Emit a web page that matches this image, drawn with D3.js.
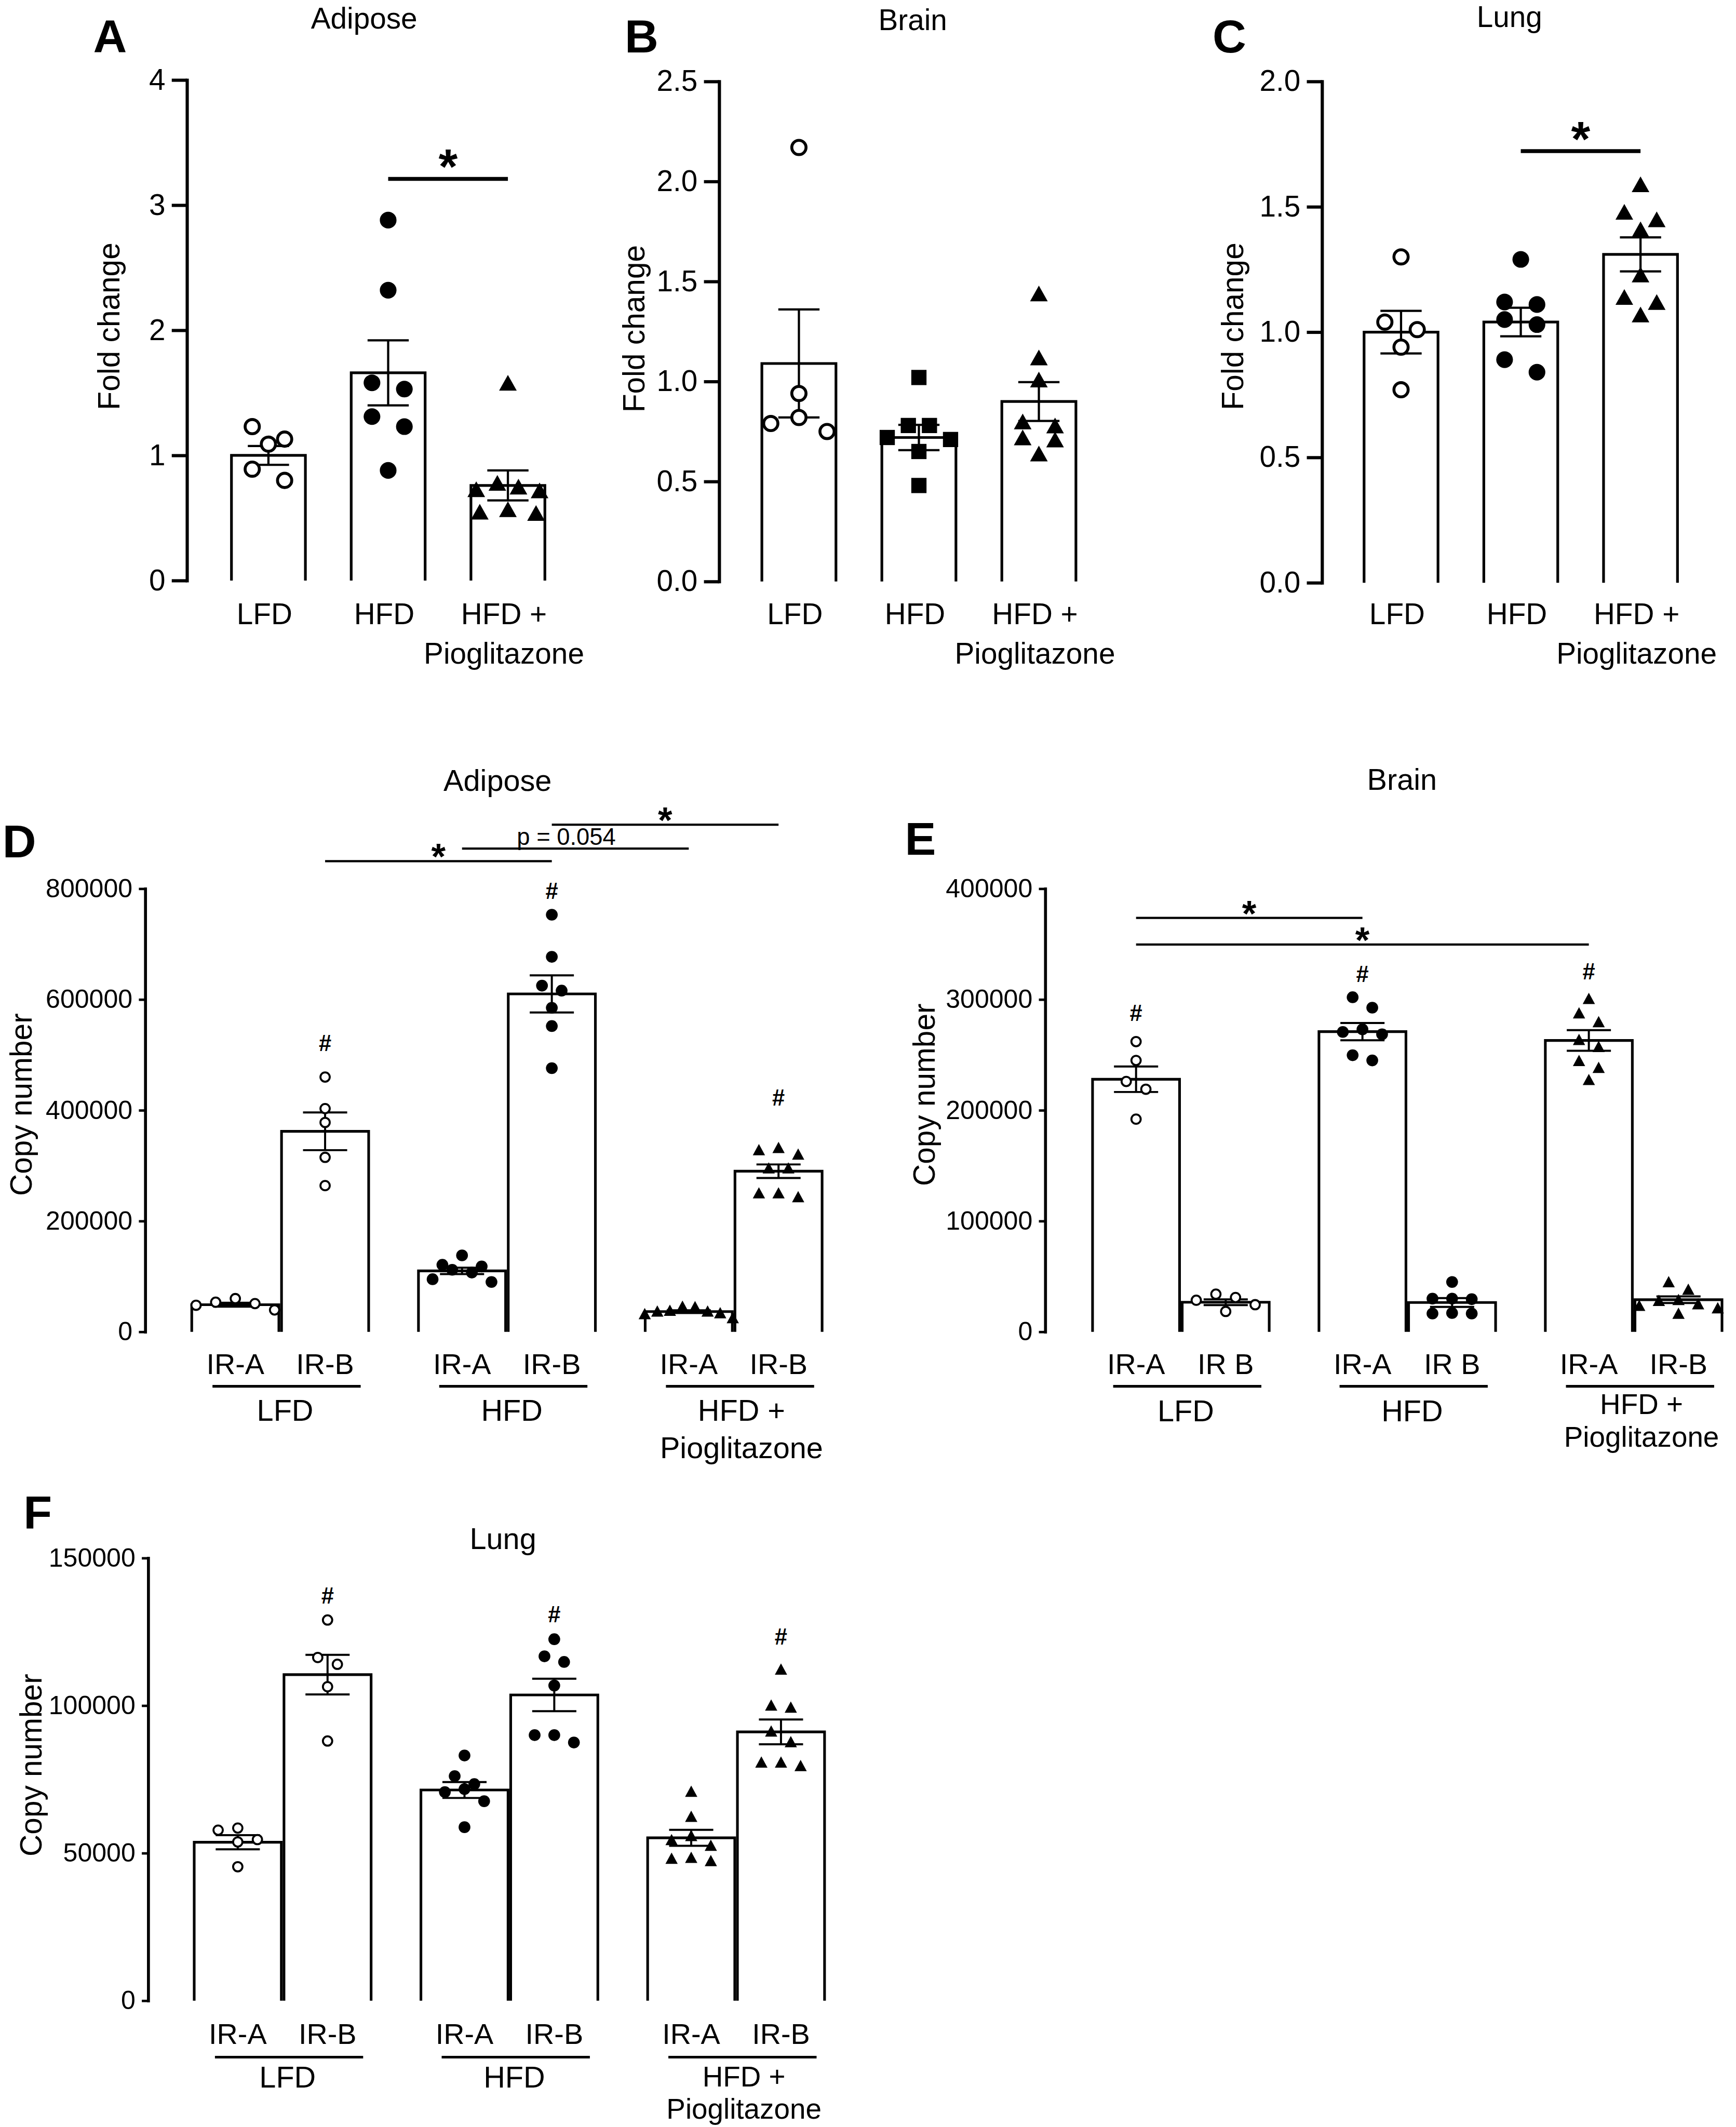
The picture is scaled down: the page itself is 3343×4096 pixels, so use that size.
<!DOCTYPE html>
<html><head><meta charset="utf-8">
<script src="https://cdn.jsdelivr.net/npm/d3@7"></script>
<style>
html,body{margin:0;padding:0;background:#fff;}
svg{display:block;}
</style></head><body>
<svg id="chart" width="3343" height="4096"></svg>
<script>
// ================= DATA =================
const foldGroups = ["LFD", "HFD", "HFD + Pioglitazone"];
const foldGroupLines = [["LFD"], ["HFD"], ["HFD +", "Pioglitazone"]];
const foldTicksAdipose = [0, 1, 2, 3, 4];
const foldTicksBrain = [0, 0.5, 1, 1.5, 2, 2.5];
const foldTicksLung = [0, 0.5, 1, 1.5, 2];

// Panel A - Adipose fold change
const adiposeFoldMean = [1.00, 1.66, 0.76];
const adiposeFoldSem = [0.075, 0.26, 0.12];
const adiposeFoldLFD = [1.23, 1.13, 1.09, 0.89, 0.80];
const adiposeFoldHFD = [2.88, 2.32, 1.58, 1.53, 1.31, 1.23, 0.88];
const adiposeFoldPio = [1.58, 0.78, 0.75, 0.73, 0.72, 0.57, 0.55, 0.54];
const adiposeFoldSig = [{ a: 1, b: 2, level: 3.21, label: "*" }];

// Panel B - Brain fold change
const brainFoldMean = [1.09, 0.72, 0.90];
const brainFoldSem = [0.27, 0.063, 0.097];
const brainFoldLFD = [2.17, 0.94, 0.82, 0.79, 0.75];
const brainFoldHFD = [1.02, 0.78, 0.78, 0.72, 0.71, 0.65, 0.48];
const brainFoldPio = [1.44, 1.12, 1.01, 0.80, 0.78, 0.72, 0.71, 0.64];
const brainFoldSig = [];

// Panel C - Lung fold change
const lungFoldMean = [1.00, 1.04, 1.31];
const lungFoldSem = [0.085, 0.057, 0.068];
const lungFoldLFD = [1.30, 1.04, 1.01, 0.94, 0.77];
const lungFoldHFD = [1.29, 1.12, 1.11, 1.05, 1.03, 0.89, 0.84];
const lungFoldPio = [1.59, 1.48, 1.45, 1.41, 1.23, 1.14, 1.12, 1.07];
const lungFoldSig = [{ a: 1, b: 2, level: 1.722, label: "*" }];

// Copy number panels: bar order = LFD IR-A, LFD IR-B, HFD IR-A, HFD IR-B, Pio IR-A, Pio IR-B
const copyGroups = ["LFD", "HFD", "HFD + Pioglitazone"];
const copyGroupLines = [["LFD"], ["HFD"], ["HFD +", "Pioglitazone"]];
const isoformLabelsAdipose = ["IR-A", "IR-B", "IR-A", "IR-B", "IR-A", "IR-B"];
const isoformLabelsBrain = ["IR-A", "IR B", "IR-A", "IR B", "IR-A", "IR-B"];
const isoformLabelsLung = ["IR-A", "IR-B", "IR-A", "IR-B", "IR-A", "IR-B"];
const copyTicksAdipose = [0, 200000, 400000, 600000, 800000];
const copyTicksBrain = [0, 100000, 200000, 300000, 400000];
const copyTicksLung = [0, 50000, 100000, 150000];

// Panel D - Adipose copy number
const adiposeCopyMean = [49000, 362000, 110000, 610000, 36500, 290000];
const adiposeCopySem = [3500, 34000, 5800, 33500, 2500, 12200];
const adiposeCopyPoints = [
  [60000, 53500, 51000, 48000, 39500],
  [460000, 403000, 378000, 315000, 264000],
  [138000, 121000, 118000, 112000, 107000, 95000, 90000],
  [753000, 677000, 625000, 616000, 585000, 552000, 476000],
  [46300, 45500, 39000, 37500, 37500, 34600, 33000, 25700],
  [333000, 329000, 321000, 296000, 296000, 251000, 251000, 244000]
];
const adiposeCopyHash = [null, 521000, null, 796000, null, 423000];
const adiposeCopySig = [
  { a: 1, b: 3, level: 849800, label: "*" },
  { a: 2, b: 4, level: 872400, label: "p = 0.054", small: true },
  { a: 3, b: 5, level: 915600, label: "*" }
];

// Panel E - Brain copy number
const brainCopyMean = [228000, 26700, 271000, 26500, 263000, 29000];
const brainCopySem = [11500, 2600, 7800, 4000, 9300, 3000];
const brainCopyPoints = [
  [262000, 245000, 226000, 219000, 192000],
  [34000, 31000, 28500, 24500, 18400],
  [302000, 292600, 273000, 270700, 268600, 249700, 245000],
  [45000, 30000, 30000, 29500, 17000, 16500, 16500],
  [301000, 288000, 280000, 264000, 257600, 245000, 238800, 227800],
  [45300, 38500, 29200, 28400, 25400, 23900, 21700, 16800]
];
const brainCopyHash = [288000, null, 323000, null, 325500, null];
const brainCopySig = [
  { a: 0, b: 2, level: 373700, label: "*" },
  { a: 0, b: 4, level: 349600, label: "*" }
];

// Panel F - Lung copy number
const lungCopyMean = [53700, 110500, 71400, 103600, 55200, 91100];
const lungCopySem = [2400, 6700, 2700, 5500, 2700, 4200];
const lungCopyPoints = [
  [58500, 57800, 54600, 53800, 45400],
  [129000, 116300, 114000, 106400, 88000],
  [83100, 76100, 73400, 71700, 70700, 67600, 58800],
  [122500, 116700, 114800, 106800, 90000, 90000, 87500],
  [71000, 62500, 56000, 54600, 52700, 48600, 48300, 47500],
  [112400, 100200, 99500, 91400, 87800, 80900, 80900, 79700]
];
const lungCopyHash = [null, 137200, null, 130900, null, 123300];
const lungCopySig = [];

// ================= DRAWING =================
const S = 0.945;
const FONT = '"Liberation Sans", Arial, Helvetica, sans-serif';
const svg = d3.select("#chart");
svg.append("rect").attr("width", 3343).attr("height", 4096).attr("fill", "#fff");
const root = svg.append("g").attr("transform", `scale(${S})`);

function txt(parent, x, y, s, size, opts = {}) {
  const t = parent.append("text").attr("x", x).attr("y", y)
    .attr("font-size", size).attr("font-family", FONT)
    .attr("text-anchor", opts.anchor || "middle")
    .attr("font-weight", opts.bold ? "bold" : "normal")
    .attr("fill", "#000").text(s);
  if (opts.dy) t.attr("dy", opts.dy);
  return t;
}

function marker(g, type, cx, cy, sz) {
  if (type === "open") {
    g.append("circle").attr("cx", cx).attr("cy", cy).attr("r", sz.ro)
      .attr("fill", "#fff").attr("stroke", "#000").attr("stroke-width", sz.sw);
  } else if (type === "dot") {
    g.append("circle").attr("cx", cx).attr("cy", cy).attr("r", sz.rf).attr("fill", "#000");
  } else if (type === "square") {
    g.append("rect").attr("x", cx - sz.sq / 2).attr("y", cy - sz.sq / 2)
      .attr("width", sz.sq).attr("height", sz.sq).attr("fill", "#000");
  } else {
    const w = sz.tw, h = sz.th;
    g.append("path").attr("d", `M${cx},${cy - h / 2}L${cx + w / 2},${cy + h / 2}L${cx - w / 2},${cy + h / 2}Z`)
      .attr("fill", "#000");
  }
}

function drawSwarm(g, vals, y, cx, type, sz, dm, spacing) {
  const pts = vals.map(v => ({ v, py: y(v) })).sort((a, b) => a.py - b.py);
  const rows = [];
  pts.forEach(p => {
    const r = rows[rows.length - 1];
    if (r && p.py - r[0].py < dm) r.push(p); else rows.push([p]);
  });
  rows.forEach(r => {
    const k = r.length, sp = spacing(k);
    const slots = d3.range(k).map(i => (i - (k - 1) / 2) * sp)
      .sort((a, b) => Math.abs(a) - Math.abs(b) || a - b);
    r.forEach((p, i) => marker(g, type, cx + slots[i], p.py, sz));
  });
}

function styleAxis(ag, domW, tickW, fontSize) {
  ag.attr("font-family", FONT);
  ag.select(".domain").attr("stroke", "#000").attr("stroke-width", domW).attr("stroke-linecap", "square");
  ag.selectAll(".tick line").attr("stroke", "#000").attr("stroke-width", tickW);
  ag.selectAll(".tick text").attr("font-size", fontSize).attr("font-family", FONT).attr("fill", "#000");
}

// ---------- Fold change panels (A-C) ----------
const foldPanels = [
  { letter: "A", letterX: 190, title: "Adipose", titleX: 742, titleY: 58, axisX: 381, y0: 1183, y1: 163,
    domain: [0, 4], ticks: foldTicksAdipose, fmt: d3.format("d"), xr: [425, 1157], ylabX: 222, ylabY: 665,
    mean: adiposeFoldMean, sem: adiposeFoldSem, pts: [adiposeFoldLFD, adiposeFoldHFD, adiposeFoldPio],
    markers: ["open", "dot", "tri"], sig: adiposeFoldSig },
  { letter: "B", letterX: 1273, title: "Brain", titleX: 1860, titleY: 61, axisX: 1465.5, y0: 1185, y1: 166,
    domain: [0, 2.5], ticks: foldTicksBrain, fmt: d3.format(".1f"), xr: [1505.75, 2239.25], ylabX: 1292, ylabY: 670,
    mean: brainFoldMean, sem: brainFoldSem, pts: [brainFoldLFD, brainFoldHFD, brainFoldPio],
    markers: ["open", "square", "tri"], sig: brainFoldSig },
  { letter: "C", letterX: 2471, title: "Lung", titleX: 3076, titleY: 55, axisX: 2694, y0: 1187.5, y1: 166,
    domain: [0, 2], ticks: foldTicksLung, fmt: d3.format(".1f"), xr: [2733, 3465], ylabX: 2512, ylabY: 665,
    mean: lungFoldMean, sem: lungFoldSem, pts: [lungFoldLFD, lungFoldHFD, lungFoldPio],
    markers: ["open", "dot", "tri"], sig: lungFoldSig }
];

const foldSize = { ro: 14.5, sw: 6, rf: 17, sq: 31, tw: 36, th: 32 };

foldPanels.forEach(c => {
  const g = root.append("g");
  const y = d3.scaleLinear().domain(c.domain).range([c.y0, c.y1]);
  const x = d3.scaleBand().domain(foldGroups).range(c.xr).paddingInner(0.36).paddingOuter(0.18);
  const ax = d3.axisLeft(y).tickValues(c.ticks).tickFormat(c.fmt).tickSize(31).tickSizeOuter(0).tickPadding(13);
  const ag = g.append("g").attr("transform", `translate(${c.axisX},0)`).call(ax);
  styleAxis(ag, 6.5, 6.5, 60);

  const sw = 5.5;
  foldGroups.forEach((grp, i) => {
    const bx = x(grp), bw = x.bandwidth(), cx = bx + bw / 2;
    g.append("path").attr("d", `M${bx + sw / 2},${y(0)}V${y(c.mean[i])}H${bx + bw - sw / 2}V${y(0)}`)
      .attr("fill", "#fff").attr("stroke", "#000").attr("stroke-width", sw).attr("stroke-linejoin", "miter");
    const lo = y(c.mean[i] - c.sem[i]), hi = y(c.mean[i] + c.sem[i]);
    g.append("path").attr("d", `M${cx},${lo}V${hi}M${cx - 42},${hi}H${cx + 42}M${cx - 42},${lo}H${cx + 42}`)
      .attr("fill", "none").attr("stroke", "#000").attr("stroke-width", 4.5);
  });
  foldGroups.forEach((grp, i) => {
    const cx = x(grp) + x.bandwidth() / 2;
    drawSwarm(g, c.pts[i], y, cx, c.markers[i], foldSize, 32, k => Math.min(66, 172 / k));
    foldGroupLines[i].forEach((line, j) => txt(g, cx - 8, 1272 + j * 80, line, 60));
  });
  c.sig.forEach(s => {
    const x1 = x(foldGroups[s.a]) + x.bandwidth() / 2, x2 = x(foldGroups[s.b]) + x.bandwidth() / 2;
    const ly = y(s.level);
    g.append("line").attr("x1", x1).attr("x2", x2).attr("y1", ly).attr("y2", ly)
      .attr("stroke", "#000").attr("stroke-width", 8);
    txt(g, (x1 + x2) / 2, ly + 9, s.label, 100, { bold: true });
  });
  g.append("text").attr("transform", `translate(${c.ylabX},${c.ylabY}) rotate(-90)`)
    .attr("text-anchor", "middle").attr("dy", "0.35em").attr("font-size", 62)
    .attr("font-family", FONT).attr("fill", "#000").text("Fold change");
  txt(g, c.titleX, c.titleY, c.title, 60);
  txt(g, c.letterX, 107, c.letter, 95, { bold: true, anchor: "start" });
});

// ---------- Copy number panels (D-F) ----------
const copyPanels = [
  { letter: "D", letterX: 5, letterY: 1747, title: "Adipose", titleX: 1014, titleY: 1612, axisX: 296, y0: 2714, y1: 1811,
    domain: [0, 800000], ticks: copyTicksAdipose, xr: [340, 1726], ylabX: 42.5, ylabY: 2251,
    mean: adiposeCopyMean, sem: adiposeCopySem, pts: adiposeCopyPoints, hash: adiposeCopyHash, sig: adiposeCopySig,
    iso: isoformLabelsAdipose, irY: 86, ulY: 111, grpY: 181, pioY: [181, 257], pioSize: 61 },
  { letter: "E", letterX: 1844, letterY: 1742, title: "Brain", titleX: 2857, titleY: 1610, axisX: 2130, y0: 2714, y1: 1811,
    domain: [0, 400000], ticks: copyTicksBrain, xr: [2175.7, 3559.7], ylabX: 1883, ylabY: 2231,
    mean: brainCopyMean, sem: brainCopySem, pts: brainCopyPoints, hash: brainCopyHash, sig: brainCopySig,
    iso: isoformLabelsBrain, irY: 86, ulY: 111, grpY: 182, pioY: [168, 234], pioSize: 58 },
  { letter: "F", letterX: 48, letterY: 3115, title: "Lung", titleX: 1025, titleY: 3157, axisX: 302, y0: 4077, y1: 3175,
    domain: [0, 150000], ticks: copyTicksLung, xr: [345, 1731], ylabX: 63, ylabY: 3597,
    mean: lungCopyMean, sem: lungCopySem, pts: lungCopyPoints, hash: lungCopyHash, sig: lungCopySig,
    iso: isoformLabelsLung, irY: 88, ulY: 115, grpY: 177, pioY: [175, 241], pioSize: 58 }
];

const copySize = { ro: 9.5, sw: 4, rf: 12, sq: 22, tw: 25, th: 23 };
const copyMarkers = ["open", "open", "dot", "dot", "tri", "tri"];

copyPanels.forEach(c => {
  const g = root.append("g");
  const y = d3.scaleLinear().domain(c.domain).range([c.y0, c.y1]);
  const gx = d3.scaleBand().domain(copyGroups).range(c.xr).paddingInner(0.208).paddingOuter(0.104);
  const bw = gx.bandwidth() / 2;
  const barX = i => gx(copyGroups[Math.floor(i / 2)]) + (i % 2) * bw;
  const ax = d3.axisLeft(y).tickValues(c.ticks).tickFormat(d3.format("d")).tickSize(13).tickSizeOuter(0).tickPadding(13);
  const ag = g.append("g").attr("transform", `translate(${c.axisX},0)`).call(ax);
  styleAxis(ag, 6, 5, 53);

  const sw = 5.4;
  c.mean.forEach((m, i) => {
    const bx = barX(i), cx = bx + bw / 2;
    g.append("path").attr("d", `M${bx + sw / 2},${y(0)}V${y(m)}H${bx + bw - sw / 2}V${y(0)}`)
      .attr("fill", "#fff").attr("stroke", "#000").attr("stroke-width", sw).attr("stroke-linejoin", "miter");
    const lo = y(m - c.sem[i]), hi = y(m + c.sem[i]);
    g.append("path").attr("d", `M${cx},${lo}V${hi}M${cx - 45},${hi}H${cx + 45}M${cx - 45},${lo}H${cx + 45}`)
      .attr("fill", "none").attr("stroke", "#000").attr("stroke-width", 4.2);
  });
  c.mean.forEach((m, i) => {
    const cx = barX(i) + bw / 2;
    drawSwarm(g, c.pts[i], y, cx, copyMarkers[i], copySize, 25, k => Math.min(40, 205 / k));
    if (c.hash[i] != null) txt(g, cx, y(c.hash[i]), "#", 46, { bold: true, dy: "0.35em" });
    txt(g, cx, c.y0 + c.irY, c.iso[i], 59);
  });
  copyGroups.forEach((grp, gi) => {
    const gc = gx(grp) + gx.bandwidth() / 2;
    g.append("line").attr("x1", gc - 138).attr("x2", gc + 164)
      .attr("y1", c.y0 + c.ulY).attr("y2", c.y0 + c.ulY).attr("stroke", "#000").attr("stroke-width", 5.4);
    const lines = copyGroupLines[gi];
    if (lines.length === 1) txt(g, gc + 10, c.y0 + c.grpY, lines[0], 61);
    else lines.forEach((l, j) => txt(g, gc + 16, c.y0 + c.pioY[j], l, c.pioSize));
  });
  c.sig.forEach(s => {
    const x1 = barX(s.a) + bw / 2, x2 = barX(s.b) + bw / 2;
    const ly = y(s.level);
    g.append("line").attr("x1", x1).attr("x2", x2).attr("y1", ly).attr("y2", ly)
      .attr("stroke", "#000").attr("stroke-width", 4.5);
    if (s.small) txt(g, x1 + (x2 - x1) * 0.46, ly - 7.5, s.label, 48);
    else txt(g, (x1 + x2) / 2, ly + 17, s.label, 75, { bold: true });
  });
  g.append("text").attr("transform", `translate(${c.ylabX},${c.ylabY}) rotate(-90)`)
    .attr("text-anchor", "middle").attr("dy", "0.35em").attr("font-size", 62)
    .attr("font-family", FONT).attr("fill", "#000").text("Copy number");
  txt(g, c.titleX, c.titleY, c.title, 61);
  txt(g, c.letterX, c.letterY, c.letter, 95, { bold: true, anchor: "start" });
});
</script>
</body></html>
